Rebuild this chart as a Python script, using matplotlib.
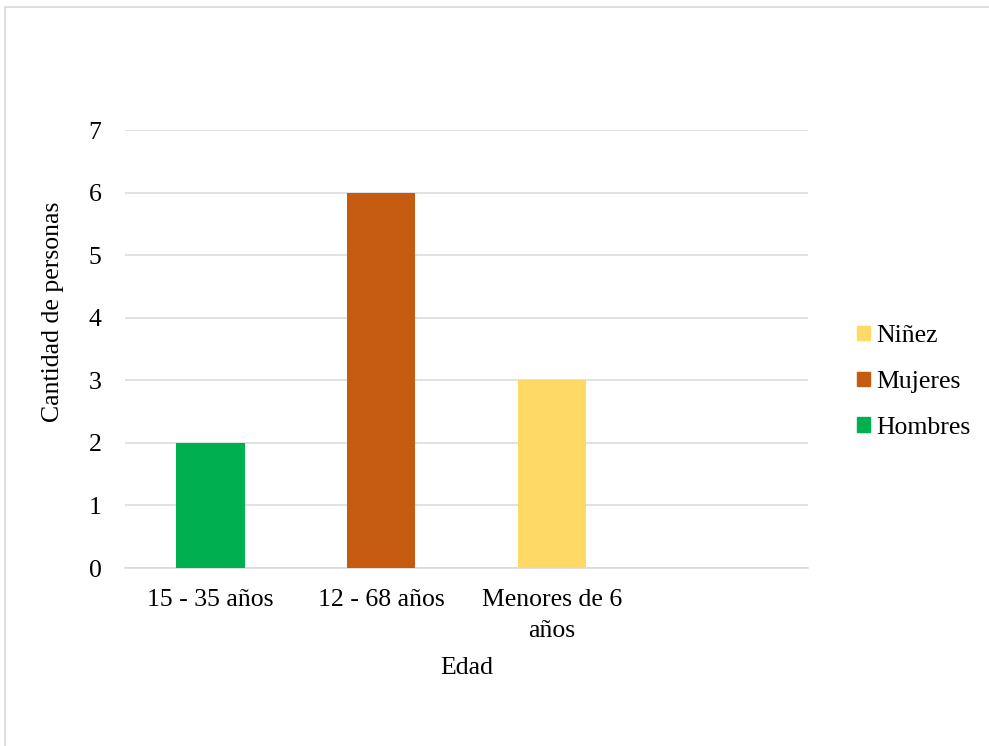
import matplotlib.pyplot as plt
from matplotlib.patches import Rectangle, Patch

# datos
categorias = ['15 - 35 años', '12 - 68 años', 'Menores de 6\naños', '']
series = ['Hombres', 'Mujeres', 'Niñez']
valores = [2, 6, 3]
colores = ['#00B050', '#C55A11', '#FFD966']
y_ticks = [0, 1, 2, 3, 4, 5, 6, 7]

plt.rcParams['font.family'] = ['Liberation Serif', 'DejaVu Serif']

fig = plt.figure(figsize=(9.89, 7.46), dpi=100)
ax = fig.add_axes([0.1264, 0.2386, 0.817 - 0.1264, 0.8257 - 0.2386])

# borde del gráfico
fig.patches.append(Rectangle((5 / 989, -0.05), 1.05, 1 - 7 / 746 + 0.05,
                             transform=fig.transFigure, fill=False,
                             edgecolor='#D9D9D9', linewidth=1.2))

for i, (nombre, v, c) in enumerate(zip(series, valores, colores)):
    ax.bar(i, v, width=0.40, color=c, zorder=3)

ax.set_xlim(-0.5, 3.5)
ax.set_ylim(0, 7)
ax.set_yticks(y_ticks)
ax.set_xticks(range(len(categorias)))
ax.set_xticklabels(categorias, fontsize=18.5, multialignment='center',
                   linespacing=1.55)
ax.tick_params(axis='y', labelsize=18.5, length=0, pad=17)
ax.tick_params(axis='x', length=0, pad=15)
ax.grid(axis='y', color='#D9D9D9', linewidth=1.1, zorder=0)
for s in ['top', 'right', 'left']:
    ax.spines[s].set_visible(False)
ax.spines['bottom'].set_color('#D9D9D9')
ax.spines['bottom'].set_linewidth(1.1)

ax.set_xlabel('Edad', fontsize=18.5, labelpad=10.5)
ax.set_ylabel('Cantidad de personas', fontsize=18.5, va='center')
ax.yaxis.set_label_coords(-0.1054, 0.5856)

handles = [Patch(color=c, label=n) for n, c in zip(series, colores)][::-1]
fig.legend(handles=handles, loc='center left', bbox_to_anchor=(0.8665, 0.4880),
           frameon=False, fontsize=18.5, handlelength=0.5, handleheight=0.5,
           handletextpad=0.25, labelspacing=0.93, borderpad=0, borderaxespad=0)

fig.savefig('out.png', dpi=100)
